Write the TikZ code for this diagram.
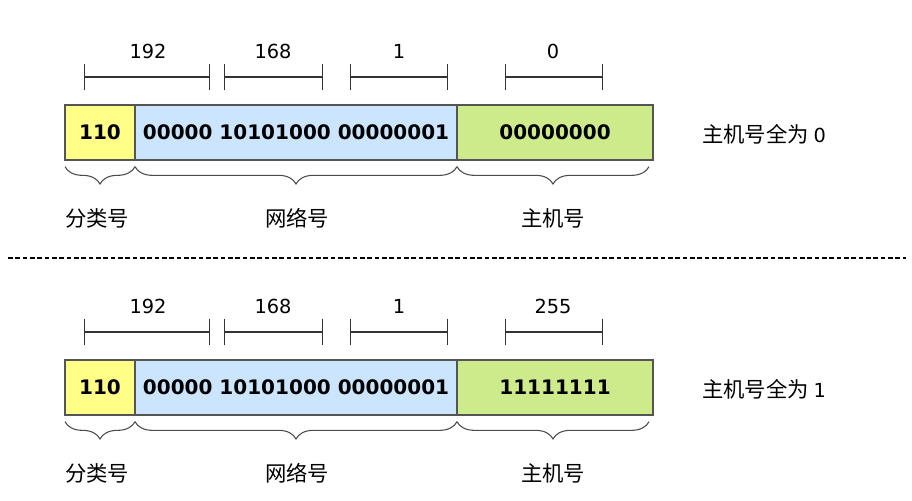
\documentclass[tikz,border=0pt]{standalone}
\usepackage{fontspec}
\setmainfont{DejaVu Sans}
\newfontfamily\cjk{Noto Sans CJK SC}
\usetikzlibrary{arrows.meta,decorations.pathreplacing}
\definecolor{cyel}{HTML}{FFFF88}
\definecolor{cblue}{HTML}{CCE5FF}
\definecolor{cgreen}{HTML}{CDEB8B}
\definecolor{cedge}{HTML}{555555}
\tikzset{
  field/.style={draw=cedge, line width=0.9pt, inner sep=0pt, outer sep=0pt,
    minimum height=41.25pt, font=\fontsize{15}{18}\selectfont\bfseries},
  dimline/.style={line width=0.9pt, draw=black!80, {Bar[width=20pt]}-{Bar[width=20pt]}},
  bracebelow/.style={draw=black!70, line width=0.8pt, decorate,
    decoration={brace, mirror, amplitude=13pt}},
  lbl/.style={font=\fontsize{14.5}{18}\selectfont, inner sep=0pt},
  clbl/.style={font=\fontsize{16}{18}\selectfont\cjk, inner sep=0pt},
  divider/.style={line width=0.9pt, dash pattern=on 3.5pt off 2pt},
}
\begin{document}
\begin{tikzpicture}[x=0.75pt, y=-0.75pt]
\useasboundingbox (0,0) rectangle (912,500);

\foreach \oy/\hv/\hbits/\note/\sfx in {0/0/00000000/0/a, 255/255/11111111/1/b}{
  \begin{scope}[yshift=-\oy*0.75pt]
  % dimension lines
  \coordinate (d1l\sfx) at (84,77);  \coordinate (d1r\sfx) at (210,77);
  \coordinate (d2l\sfx) at (224,77); \coordinate (d2r\sfx) at (323,77);
  \coordinate (d3l\sfx) at (350,77); \coordinate (d3r\sfx) at (448,77);
  \coordinate (d4l\sfx) at (505,77); \coordinate (d4r\sfx) at (603,77);
  \draw[dimline] (d1l\sfx) -- (d1r\sfx);
  \draw[dimline] (d2l\sfx) -- (d2r\sfx);
  \draw[dimline] (d3l\sfx) -- (d3r\sfx);
  \draw[dimline] (d4l\sfx) -- (d4r\sfx);
  \node[lbl] (n1\sfx) at (148,51) {192};
  \node[lbl] (n2\sfx) at (273,51) {168};
  \node[lbl] (n3\sfx) at (399,51) {1};
  \node[lbl] (n4\sfx) at (553,51) {\hv};
  % fields
  \node[field, fill=cyel, minimum width=52.5pt] (cls\sfx) at (100,132.5) {110};
  \node[field, fill=cblue, minimum width=241.5pt] (net\sfx) at (296,132.5) {00000 10101000 00000001};
  \node[field, fill=cgreen, minimum width=147pt] (host\sfx) at (555,132.5) {\hbits};
  % braces
  \draw[bracebelow] ([yshift=-5pt]cls\sfx.south west) -- ([yshift=-5pt]cls\sfx.south east);
  \draw[bracebelow] ([yshift=-5pt]net\sfx.south west) -- ([yshift=-5pt]net\sfx.south east);
  \draw[bracebelow] ([yshift=-5pt]host\sfx.south west) -- ([xshift=-3pt,yshift=-5pt]host\sfx.south east);
  \node[clbl] (lc\sfx) at (97,218) {分类号};
  \node[clbl] (ln\sfx) at (297,218) {网络号};
  \node[clbl] (lh\sfx) at (553,218) {主机号};
  \node[clbl, anchor=west] (side\sfx) at (702,134) {主机号全为 {\fontsize{14.5}{18}\selectfont\normalfont\note}};
  \end{scope}
}

\coordinate (divL) at (8,258);
\coordinate (divR) at (906,258);
\draw[divider] (divL) -- (divR);
\end{tikzpicture}
\end{document}
